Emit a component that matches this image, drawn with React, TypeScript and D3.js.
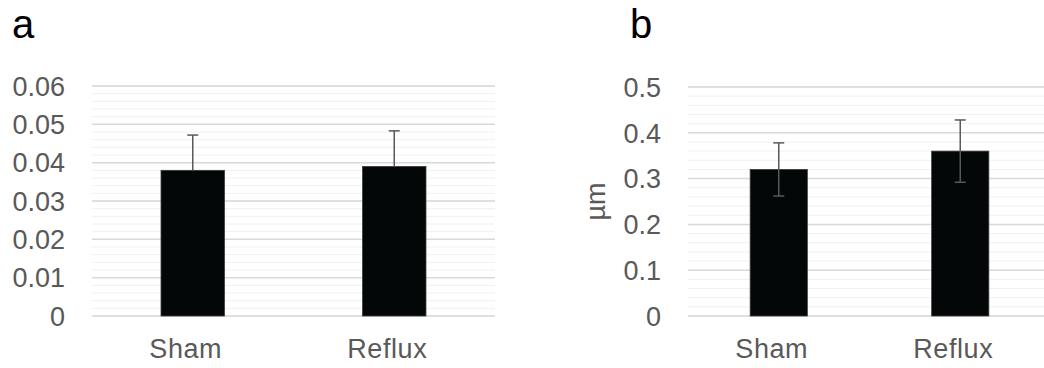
import React, { useEffect, useRef } from 'react';
import * as d3 from 'd3';

const groups = ['Sham', 'Reflux'];

// panel a
const valuesA = [0.038, 0.039];
const errorsA = [0.0092, 0.0093];
const ticksA = [0, 0.01, 0.02, 0.03, 0.04, 0.05, 0.06];

// panel b
const valuesB = [0.32, 0.36];
const errorsB = [0.058, 0.068];
const ticksB = [0, 0.1, 0.2, 0.3, 0.4, 0.5];

const FONT = 'Arial, "Liberation Sans", sans-serif';

const App: React.FC = () => {
  const chartRef = useRef<SVGSVGElement>(null);

  const drawPanel = (svg, opts) => {
    const { left, right, top, bottom, values, errors, ticks, minorStep, fmt, letter, letterX, twoSided, unit } = opts;
    const g = svg.append('g');

    const x = d3.scaleBand().domain(groups).range([left, right]);
    const y = d3
      .scaleLinear()
      .domain([0, ticks[ticks.length - 1]])
      .range([bottom, top]);

    const maxV = ticks[ticks.length - 1];
    const minor = d3.range(0, maxV + minorStep / 2, minorStep);

    g.selectAll('.minor')
      .data(minor)
      .join('line')
      .attr('x1', left)
      .attr('x2', right)
      .attr('y1', (d) => y(d))
      .attr('y2', (d) => y(d))
      .attr('stroke', '#f0f0f0')
      .attr('stroke-width', 1);

    g.selectAll('.major')
      .data(ticks)
      .join('line')
      .attr('x1', left)
      .attr('x2', right)
      .attr('y1', (d) => y(d))
      .attr('y2', (d) => y(d))
      .attr('stroke', '#d9d9d9')
      .attr('stroke-width', 1.5);

    g.selectAll('.ytick')
      .data(ticks)
      .join('text')
      .attr('x', left - 27)
      .attr('y', (d) => y(d))
      .attr('dy', '0.36em')
      .attr('text-anchor', 'end')
      .attr('font-family', FONT)
      .attr('font-size', 27)
      .attr('fill', '#595959')
      .text((d) => fmt(d));

    const bw = x.bandwidth() * 0.315;
    const cx = (d) => x(d) + x.bandwidth() / 2;

    g.selectAll('.bar')
      .data(groups)
      .join('rect')
      .attr('x', (d) => cx(d) - bw / 2)
      .attr('y', (d, i) => y(values[i]))
      .attr('width', bw)
      .attr('height', (d, i) => y(0) - y(values[i]))
      .attr('fill', '#040707')
      .attr('stroke', '#3a3a3a')
      .attr('stroke-width', 0.8);

    groups.forEach((d, i) => {
      const hi = y(values[i] + errors[i]);
      const lo = twoSided ? y(values[i] - errors[i]) : y(values[i]);
      g.append('line')
        .attr('x1', cx(d))
        .attr('x2', cx(d))
        .attr('y1', hi)
        .attr('y2', lo)
        .attr('stroke', '#595959')
        .attr('stroke-width', 1.5);
      g.append('line')
        .attr('x1', cx(d) - 5.5)
        .attr('x2', cx(d) + 5.5)
        .attr('y1', hi)
        .attr('y2', hi)
        .attr('stroke', '#595959')
        .attr('stroke-width', 1.5);
      if (twoSided) {
        g.append('line')
          .attr('x1', cx(d) - 5.5)
          .attr('x2', cx(d) + 5.5)
          .attr('y1', lo)
          .attr('y2', lo)
          .attr('stroke', '#595959')
          .attr('stroke-width', 1.5);
      }
    });

    g.selectAll('.xtick')
      .data(groups)
      .join('text')
      .attr('x', (d) => cx(d) - 7)
      .attr('y', 358)
      .attr('text-anchor', 'middle')
      .attr('font-family', FONT)
      .attr('font-size', 27)
      .attr('letter-spacing', 0.6)
      .attr('fill', '#595959')
      .text((d) => d);

    g.append('text')
      .attr('x', letterX)
      .attr('y', 37.5)
      .attr('font-family', FONT)
      .attr('font-size', 40)
      .attr('fill', '#000')
      .text(letter);

    if (unit) {
      g.append('text')
        .attr('transform', `translate(605,${(top + bottom) / 2}) rotate(-90)`)
        .attr('text-anchor', 'middle')
        .attr('font-family', FONT)
        .attr('font-size', 27)
        .attr('fill', '#595959')
        .text(unit);
    }
  };

  useEffect(() => {
    const svg = d3.select(chartRef.current);
    svg.selectAll('*').remove();

    drawPanel(svg, {
      left: 92,
      right: 495,
      top: 86,
      bottom: 316,
      values: valuesA,
      errors: errorsA,
      ticks: ticksA,
      minorStep: 0.002,
      fmt: (d) => (d === 0 ? '0' : d3.format('.2f')(d)),
      letter: 'a',
      letterX: 12,
      twoSided: false,
    });

    drawPanel(svg, {
      left: 688,
      right: 1051,
      top: 87,
      bottom: 316,
      values: valuesB,
      errors: errorsB,
      ticks: ticksB,
      minorStep: 0.02,
      fmt: (d) => (d === 0 ? '0' : d3.format('.1f')(d)),
      letter: 'b',
      letterX: 630,
      twoSided: true,
      unit: 'µm',
    });
  }, []);

  return (
    <svg
      ref={chartRef}
      width={1044}
      height={368}
      style={{ position: 'absolute', left: 0, top: 0, background: '#fff' }}
    ></svg>
  );
};

export default App;
